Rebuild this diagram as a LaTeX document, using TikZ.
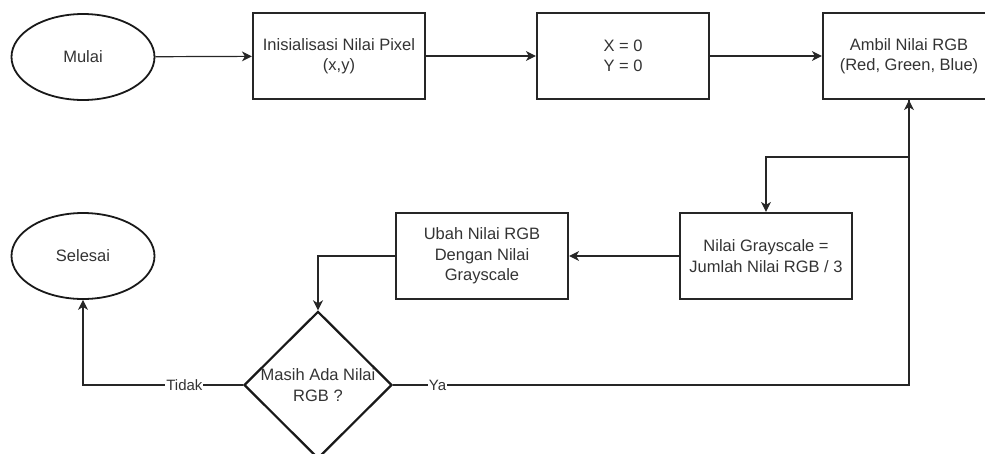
\documentclass[tikz,border=0pt]{standalone}
\usepackage{fontspec}
\setmainfont{Liberation Sans}
\usetikzlibrary{shapes.geometric,arrows.meta}
\definecolor{txt}{HTML}{333333}
\begin{document}
\begin{tikzpicture}[x=1pt,y=-1pt,
  font=\fontsize{16.5}{20.5}\selectfont,
  box/.style={draw=black!85,line width=2.2pt,rectangle,minimum width=172pt,minimum height=86pt,align=center,text=txt,inner sep=1pt},
  oval/.style={draw=black!90,line width=1.8pt,ellipse,minimum width=143pt,minimum height=86pt,text=txt,inner sep=0pt},
  dia/.style={draw=black!90,line width=2.2pt,diamond,minimum width=148pt,minimum height=144pt,align=center,text=txt,inner sep=0pt},
  conn/.style={draw=black!85,line width=1.2pt,-{Stealth[length=10pt,width=10pt,inset=3pt]}},
  lab/.style={fill=white,text=txt,inner sep=1pt,font=\fontsize{15}{17}\selectfont}]
\useasboundingbox (0,0) rectangle (985,453);
\node[oval] (mulai) at (83,57) {Mulai};
\node[box] (init) at (339,56) {Inisialisasi Nilai Pixel\\(x,y)};
\node[box] (xy) at (623,56) {X = 0\\Y = 0};
\node[box] (ambil) at (909,56) {Ambil Nilai RGB\\(Red, Green, Blue)};
\node[box] (gray) at (766,256) {Nilai Grayscale =\\Jumlah Nilai RGB / 3};
\node[box] (ubah) at (482,256) {Ubah Nilai RGB\\Dengan Nilai\\Grayscale};
\node[dia] (cek) at (318,385) {Masih Ada Nilai\\RGB ?};
\node[oval] (selesai) at (83,256) {Selesai};
\coordinate (split) at (909,157);
\draw[conn] (mulai) -- (init);
\draw[conn] (init) -- (xy);
\draw[conn] (xy) -- (ambil);
\draw[conn] (ambil.south) -- (split) -| (gray.north);
\draw[conn] (gray) -- (ubah);
\draw[conn] (ubah.west) -| (cek.north);
\draw[conn] (cek.west) -| node[lab,pos=0.183] {Tidak} (selesai.south);
\draw[conn] (cek.east) -| node[lab,pos=0.043] {Ya} (ambil.south);
\end{tikzpicture}
\end{document}
